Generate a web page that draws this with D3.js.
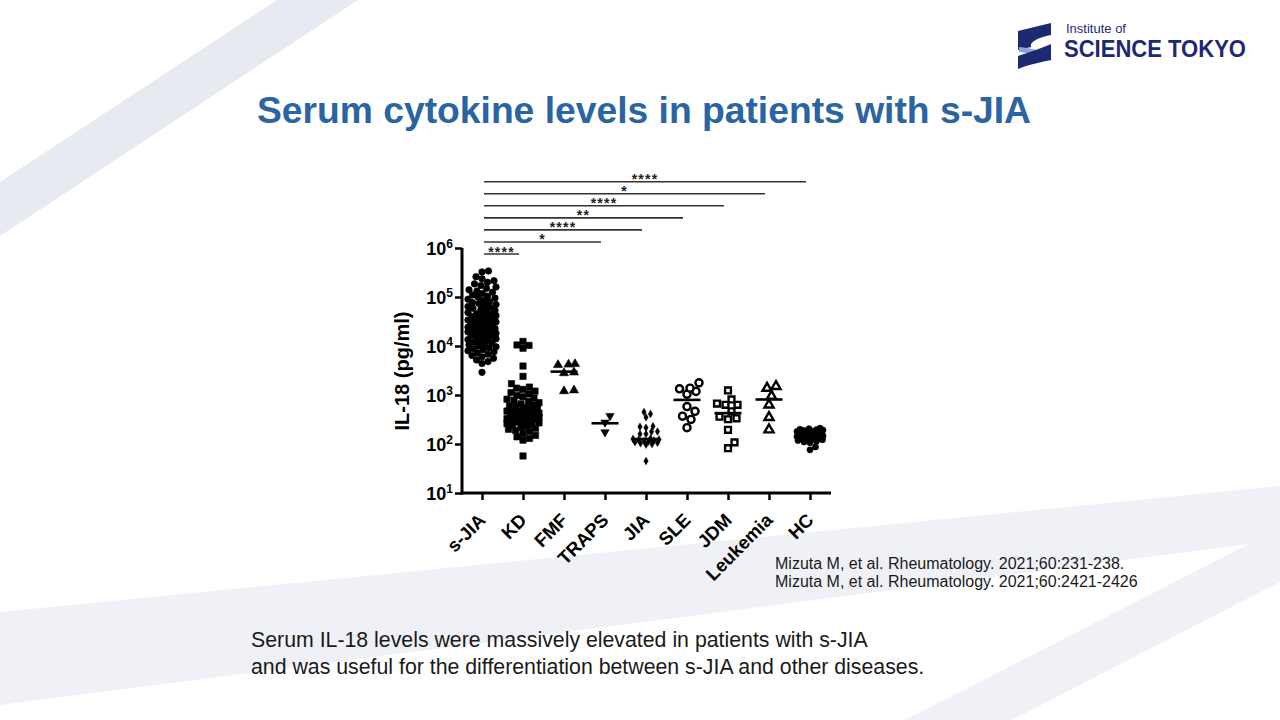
<!DOCTYPE html>
<html><head><meta charset="utf-8">
<script src="https://cdn.jsdelivr.net/npm/d3@7"></script>
<style>
body{margin:0;background:#fff;}
svg{display:block;font-family:"Liberation Sans",Arial,Helvetica,sans-serif;}
</style>
</head><body>
<svg id="chart" width="1280" height="720"></svg>
<script>
// ---------- DATA ----------
const categories = ["s-JIA","KD","FMF","TRAPS","JIA","SLE","JDM","Leukemia","HC"];
const sJIA = [340000,325000,260000,235000,215000,200000,185000,172000,160000,150000,140000,132000,125000,118000,110000,104000,100000,95000,90000,85000,80000,77000,74000,70000,67000,64000,61000,59000,56000,53000,50000,48000,46000,44500,43000,41500,40000,38500,37000,35500,34000,33000,32000,31000,30000,29000,28000,27000,26000,25000,24200,23500,22800,22000,21300,20600,20000,19400,18800,18200,17600,17000,16400,15800,15200,14600,14000,13500,13000,12500,12000,11500,11000,10500,10000,9600,9200,8800,8400,8000,7600,7200,6800,6400,6000,5600,5200,4800,4400,2900];
const KD = [12400,10500,10300,9000,3900,2400,1700,1450,1380,1300,1200,1120,1050,980,920,870,820,780,740,700,660,630,600,580,560,540,520,500,480,470,455,440,425,410,400,390,380,370,360,350,340,330,320,310,300,290,280,270,260,250,240,230,220,210,200,190,180,165,150,140,130,120,57];
const FMF = [4300,4200,4100,2900,2800,1250,1200];
const TRAPS = [375,275,174];
const JIA = [450,410,350,230,225,215,180,178,160,160,130,127,124,121,118,115,112,109,106,103,100,97,45];
const SLE = [1770,1380,1340,1180,1040,580,465,370,317,215];
const JDM = [1240,810,670,630,630,465,360,335,320,195,108,82];
const Leukemia = [1500,1380,950,630,350,195];
const HC = [210,205,200,196,192,188,184,180,175,170,165,160,155,150,146,142,138,134,130,126,122,118,114,110,106,87,76];
const groupValues = [sJIA, KD, FMF, TRAPS, JIA, SLE, JDM, Leukemia, HC];
const centerLines = [26000, 380, 3000, 265, 126, 795, 427, 810, 142];
const yTickValues = [10, 100, 1000, 10000, 100000, 1000000];
const yTickExponents = ["1","2","3","4","5","6"];
const comparisonTargets = ["KD","TRAPS","JIA","SLE","JDM","Leukemia","HC"];
const comparisonLabels  = ["****","*","****","**","****","*","****"];

// ---------- SETUP ----------
const svg = d3.select("#chart");
const NAVY = "#1d2a72";

// background stripes
const bg = svg.append("g");
bg.append("path").attr("d","M0,182 L277,0 L358,0 L0,236 Z").attr("fill","#e8eaf2");
bg.append("path").attr("d","M0,612 L1280,486 L1280,540 L0,705 Z").attr("fill","#f0f1f6");
bg.append("path").attr("d","M1280,528 L1280,582 L1012,720 L905,720 Z").attr("fill","#f0f1f6");

// logo
const logo = svg.append("g");
logo.append("path").attr("d","M1018,31 L1051,23 L1051,35 C1040,37 1034,40 1031,44 L1031,47 L1018,50 Z").attr("fill",NAVY);
logo.append("path").attr("d","M1019,47 C1032,48 1045,52 1051,57 L1051,61 C1044,57 1030,53 1019,52 Z").attr("fill","#8da2d4");
logo.append("path").attr("d","M1051,44 L1051,60 C1042,62 1030,64 1018,69 L1018,56 C1030,52 1042,48 1051,44 Z").attr("fill",NAVY);
logo.append("text").attr("x",1066).attr("y",33).attr("font-size",13).attr("font-weight",500).attr("fill",NAVY).text("Institute of");
logo.append("text").attr("x",1064).attr("y",57).attr("font-size",24).attr("font-weight","bold").attr("fill",NAVY)
  .attr("textLength",182).attr("lengthAdjust","spacingAndGlyphs").text("SCIENCE TOKYO");

// title
svg.append("text").attr("x",257).attr("y",123).attr("font-size",37).attr("font-weight","bold").attr("fill","#2a64a3")
  .attr("textLength",774).attr("lengthAdjust","spacingAndGlyphs").text("Serum cytokine levels in patients with s-JIA");

// ---------- SCALES ----------
const x = d3.scalePoint().domain(categories).range([482, 810]);
const y = d3.scaleLog().domain([10, 1e6]).range([493, 248]);
const axisLeftX = 462, axisRightX = 831;

const plot = svg.append("g");

// y axis ticks
const yAxis = d3.axisLeft(y).tickValues(yTickValues).tickSize(7).tickSizeOuter(0).tickFormat("");
const gy = plot.append("g").attr("transform",`translate(${axisLeftX},0)`).call(yAxis);
gy.select(".domain").remove();
gy.selectAll(".tick line").attr("stroke","#000").attr("stroke-width",2.5);
gy.selectAll(".tick").each(function(d,i){
  const t = d3.select(this).append("text").attr("x",-9).attr("y",6.5).attr("text-anchor","end")
    .attr("fill","#000").attr("font-weight","bold").attr("font-size",18).style("font-family","'Liberation Sans',Arial,sans-serif");
  t.append("tspan").text("10");
  t.append("tspan").attr("dy",-7.5).attr("font-size",12).text(yTickExponents[i]);
});

// x axis ticks
const xAxis = d3.axisBottom(x).tickSize(7).tickSizeOuter(0).tickFormat("");
const gx = plot.append("g").attr("transform","translate(0,493)").call(xAxis);
gx.select(".domain").remove();
gx.selectAll(".tick line").attr("stroke","#000").attr("stroke-width",2.5);
gx.selectAll(".tick").append("text")
  .attr("transform","translate(-5,19) rotate(-45)")
  .attr("text-anchor","end").attr("dy","0.71em")
  .attr("fill","#000").attr("font-weight","bold").attr("font-size",18.5)
  .style("font-family","'Liberation Sans',Arial,sans-serif")
  .text(d=>d);

// axis lines
plot.append("line").attr("x1",axisLeftX).attr("x2",axisLeftX).attr("y1",y(1e6)).attr("y2",y(10)+1.5)
  .attr("stroke","#000").attr("stroke-width",3);
plot.append("line").attr("x1",axisLeftX-1.5).attr("x2",axisRightX).attr("y1",y(10)).attr("y2",y(10))
  .attr("stroke","#000").attr("stroke-width",3);

// axis title
plot.append("text").attr("transform",`translate(409,371) rotate(-90)`).attr("text-anchor","middle")
  .attr("font-size",20).attr("font-weight","bold").attr("fill","#000").text("IL-18 (pg/ml)");

// ---------- SWARM LAYOUT ----------
function swarm(vals, minDist, maxOff){
  const pts = vals.map(v=>({v, py:y(v)})).sort((a,b)=>a.v-b.v);
  const cands=[0];
  for(let s=0.5;s<=maxOff;s+=0.5){cands.push(s,-s);}
  const placed=[];
  for(const p of pts){
    let chosen=null,bestScore=-Infinity,bestOff=0;
    for(const c of cands){
      let md=Infinity;
      for(const q of placed){
        const dy=q.py-p.py; if(Math.abs(dy)>=minDist) continue;
        const d=Math.hypot(q.dx-c,dy); if(d<md) md=d;
      }
      if(md>=minDist){chosen=c;break;}
      if(md>bestScore+1e-9){bestScore=md;bestOff=c;}
    }
    p.dx = chosen===null?bestOff:chosen;
    placed.push(p);
  }
  return placed;
}

const markerStyles = [
  {type:d3.symbolCircle,  size:34, fill:true,  rot:0,   md:6.2, max:14},
  {type:d3.symbolSquare,  size:40, fill:true,  rot:0,   md:6.6, max:16},
  {type:d3.symbolTriangle,size:36, fill:true,  rot:0,   md:10,  max:11},
  {type:d3.symbolTriangle,size:30, fill:true,  rot:180, md:8,   max:8},
  {type:d3.symbolDiamond, size:16, fill:true,  rot:0,   md:5.6, max:13},
  {type:d3.symbolCircle,  size:40, fill:false, rot:0,   md:9,   max:12},
  {type:d3.symbolSquare,  size:34, fill:false, rot:0,   md:8.5, max:12},
  {type:d3.symbolTriangle,size:36, fill:false, rot:0,   md:9,   max:8},
  {type:d3.symbolCircle,  size:30, fill:true,  rot:0,   md:5.8, max:13}
];

categories.forEach((cat,gi)=>{
  const st = markerStyles[gi];
  const pts = swarm(groupValues[gi], st.md, st.max);
  const sym = d3.symbol().type(st.type).size(st.size);
  plot.append("g").selectAll("path").data(pts).join("path")
    .attr("d",sym)
    .attr("transform",d=>`translate(${x(cat)+d.dx},${d.py}) rotate(${st.rot})`)
    .attr("fill",st.fill?"#000":"#fff")
    .attr("stroke","#000")
    .attr("stroke-width",st.fill?0.6:2.4);
  // center line
  plot.append("line")
    .attr("x1",x(cat)-13.5).attr("x2",x(cat)+13.5)
    .attr("y1",y(centerLines[gi])).attr("y2",y(centerLines[gi]))
    .attr("stroke","#000").attr("stroke-width",2.6);
});

// ---------- SIGNIFICANCE BARS ----------
const sig = plot.append("g");
comparisonTargets.forEach((t,i)=>{
  const yy = 254 - i*12.05;
  const x1 = x("s-JIA")+2, x2 = x(t)-4;
  sig.append("line").attr("x1",x1).attr("x2",x2).attr("y1",yy).attr("y2",yy)
    .attr("stroke","#333").attr("stroke-width",1.6);
  sig.append("text").attr("x",(x1+x2)/2).attr("y",yy+2.5).attr("text-anchor","middle")
    .attr("font-size",14).attr("font-weight","bold").attr("letter-spacing","1.2px").attr("fill","#222")
    .text(comparisonLabels[i]);
});

// ---------- TEXTS ----------
svg.append("text").attr("x",775).attr("y",569).attr("font-size",16).attr("fill","#1a1a1a").text("Mizuta M, et al. Rheumatology. 2021;60:231-238.");
svg.append("text").attr("x",775).attr("y",587).attr("font-size",16).attr("fill","#1a1a1a").text("Mizuta M, et al. Rheumatology. 2021;60:2421-2426");
svg.append("text").attr("x",251).attr("y",647).attr("font-size",21.3).attr("fill","#1a1a1a").text("Serum IL-18 levels were massively elevated in patients with s-JIA");
svg.append("text").attr("x",251).attr("y",674).attr("font-size",21.3).attr("fill","#1a1a1a").text("and was useful for the differentiation between s-JIA and other diseases.");
</script>
</body></html>
